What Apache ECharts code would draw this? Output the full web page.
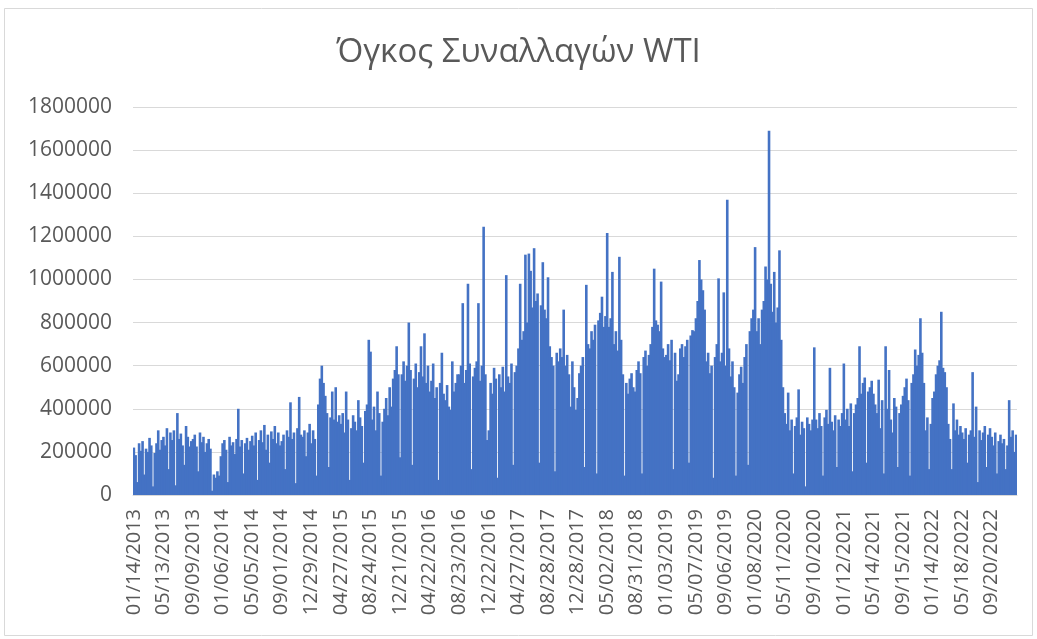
<!DOCTYPE html>
<html>
<head>
<meta charset="utf-8">
<title>Όγκος Συναλλαγών WTI</title>
<script src="https://cdn.jsdelivr.net/npm/echarts@6/dist/echarts.min.js"></script>
<style>
  html, body { margin: 0; padding: 0; background: #fff; }
  #chart { width: 1037px; height: 639px; }
</style>
</head>
<body>
<div id="chart"></div>
<script>
// x axis labels, one every 17 bars
const tickLabels = [
  '01/14/2013', '05/13/2013', '09/09/2013', '01/06/2014', '05/05/2014', '09/01/2014',
  '12/29/2014', '04/27/2015', '08/24/2015', '12/21/2015', '04/22/2016', '08/23/2016',
  '12/22/2016', '04/27/2017', '08/28/2017', '12/28/2017', '05/02/2018', '08/31/2018',
  '01/03/2019', '05/07/2019', '09/06/2019', '01/08/2020', '05/11/2020', '09/10/2020',
  '01/12/2021', '05/14/2021', '09/15/2021', '01/14/2022', '05/18/2022', '09/20/2022'
];
const labelStep = 17;

// volume (2013 - mid 2015)
const vol2013 = [
  220000,185000,60000,240000,205000,250000,95000,215000,200000,265000,230000,40000,195000,240000,300000,210000,255000,
  270000,230000,310000,120000,290000,255000,300000,45000,380000,260000,285000,230000,140000,320000,270000,225000,250000,
  260000,280000,225000,110000,290000,245000,270000,200000,240000,260000,215000,20000,95000,80000,110000,90000,180000,
  240000,255000,210000,60000,270000,230000,245000,190000,260000,400000,225000,255000,100000,240000,265000,210000,250000,
  275000,230000,290000,70000,255000,300000,245000,325000,210000,280000,150000,295000,260000,320000,240000,290000,230000,
  250000,280000,120000,300000,270000,430000,260000,290000,55000,310000,455000,280000,270000,300000,180000,290000,330000
];
// mid 2015 - 2017
const vol2015 = [
  240000,300000,260000,90000,420000,540000,600000,520000,460000,380000,130000,360000,480000,350000,500000,340000,370000,
  330000,380000,290000,480000,350000,70000,310000,370000,340000,300000,440000,360000,320000,150000,390000,420000,720000,
  665000,350000,410000,300000,480000,380000,90000,340000,400000,450000,370000,500000,410000,540000,580000,690000,560000,
  175000,560000,620000,530000,600000,800000,580000,140000,540000,610000,500000,570000,690000,550000,750000,520000,600000,
  480000,530000,610000,450000,500000,70000,520000,660000,470000,440000,510000,410000,395000,620000,480000,520000,560000,
  560000,600000,890000,520000,580000,980000,610000,120000,550000,590000,620000,890000,530000,600000,1245000,560000,255000
];
// 2017 - 2019
const vol2017 = [
  300000,520000,470000,590000,540000,80000,560000,500000,595000,480000,1020000,550000,520000,610000,140000,570000,600000,
  680000,980000,720000,760000,1115000,800000,1120000,1040000,870000,1145000,900000,935000,150000,880000,1080000,860000,820000,
  1010000,690000,640000,600000,110000,660000,620000,680000,640000,860000,600000,650000,560000,410000,620000,500000,395000,
  450000,565000,600000,640000,130000,975000,700000,680000,760000,720000,790000,100000,810000,845000,920000,780000,830000,
  1215000,780000,820000,1035000,700000,760000,670000,1105000,720000,560000,90000,520000,470000,540000,565000,500000,480000,
  580000,620000,565000,100000,640000,670000,600000,650000,700000,780000,1050000,810000,790000,760000,990000,680000,640000
];
// 2019 - 2021
const vol2019 = [
  650000,700000,625000,720000,120000,660000,530000,560000,680000,700000,640000,690000,720000,150000,740000,765000,760000,
  820000,900000,1090000,1000000,950000,860000,620000,660000,565000,600000,80000,640000,700000,1005000,620000,660000,940000,
  600000,1370000,680000,550000,620000,500000,90000,475000,560000,595000,520000,640000,700000,140000,760000,820000,860000,
  1150000,760000,820000,700000,860000,900000,1060000,1000000,1690000,980000,850000,1035000,800000,870000,1135000,720000,500000,
  380000,330000,475000,300000,350000,100000,320000,360000,490000,280000,340000,310000,40000,360000,330000,300000,350000,
  685000,350000,310000,380000,320000,90000,360000,395000,330000,590000,340000,300000,370000,130000,350000,320000,380000
];
// 2021 - 2022
const vol2021 = [
  610000,350000,400000,320000,425000,110000,380000,420000,450000,690000,470000,520000,545000,150000,480000,500000,530000,
  470000,420000,380000,535000,310000,440000,100000,690000,400000,580000,350000,290000,450000,410000,130000,380000,420000,
  460000,500000,540000,440000,90000,520000,560000,675000,600000,650000,820000,660000,520000,300000,360000,120000,330000,
  450000,480000,560000,600000,625000,850000,590000,570000,500000,330000,260000,120000,425000,300000,350000,280000,320000,
  290000,260000,310000,150000,280000,300000,570000,270000,410000,60000,300000,255000,290000,320000,130000,280000,310000,
  270000,230000,290000,100000,250000,280000,240000,260000,120000,230000,440000,270000,300000,200000,280000
];

const volume = [].concat(vol2013, vol2015, vol2017, vol2019, vol2021);
const categories = volume.map((v, i) =>
  i % labelStep === 0 ? tickLabels[i / labelStep] : 'd' + i);

const chart = echarts.init(document.getElementById('chart'), null, { renderer: 'canvas' });

const option = {
  backgroundColor: '#ffffff',
  animation: false,
  textStyle: { fontFamily: 'Open Sans' },
  title: {
    text: 'Όγκος Συναλλαγών WTI',
    left: 'center',
    top: 31,
    textStyle: { fontSize: 33, fontWeight: 'normal', color: '#595959', fontFamily: 'Open Sans' }
  },
  graphic: [{
    type: 'rect',
    shape: { x: 4.5, y: 8.5, width: 1028, height: 627 },
    style: { fill: 'none', stroke: '#d9d9d9', lineWidth: 1 },
    silent: true
  }],
  grid: { left: 133, right: 20, top: 107, bottom: 144 },
  xAxis: {
    type: 'category',
    data: categories,
    boundaryGap: true,
    axisLine: { lineStyle: { color: '#d9d9d9', width: 1 } },
    axisTick: { show: false },
    axisLabel: {
      interval: labelStep - 1,
      rotate: 90,
      margin: 14,
      color: '#595959',
      fontSize: 20,
      fontFamily: 'Open Sans'
    },
    splitLine: { show: false }
  },
  yAxis: {
    type: 'value',
    min: 0,
    max: 1800000,
    interval: 200000,
    axisLine: { show: false },
    axisTick: { show: false },
    axisLabel: {
      color: '#595959', fontSize: 21, margin: 21, fontFamily: 'Open Sans',
      formatter: v => String(v)
    },
    splitLine: { lineStyle: { color: '#d9d9d9', width: 1 } }
  },
  series: [{
    name: 'Volume',
    type: 'bar',
    data: volume,
    barWidth: 2.6,
    itemStyle: { color: '#4472C4' }
  }]
};

chart.setOption(option);
</script>
</body>
</html>
